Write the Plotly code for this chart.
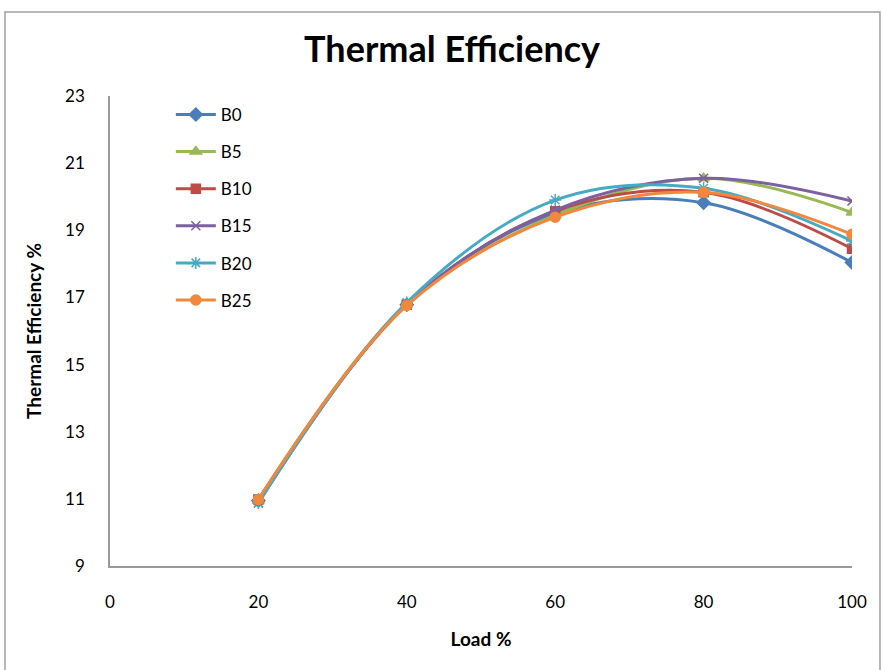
import plotly.graph_objects as go

# Engine load (%) and thermal efficiency (%) for each blend
load = [20, 40, 60, 80, 100]
b0 = [10.95, 16.78, 19.50, 19.82, 18.04]
b5 = [10.95, 16.80, 19.45, 20.55, 19.53]
b10 = [10.98, 16.78, 19.57, 20.13, 18.45]
b15 = [10.88, 16.80, 19.60, 20.55, 19.87]
b20 = [10.88, 16.85, 19.90, 20.25, 18.68]
b25 = [10.98, 16.76, 19.39, 20.13, 18.88]

series = [
    ("B0", b0, "#4A7EBB", "diamond", 10),
    ("B5", b5, "#98B954", "triangle-up", 10),
    ("B10", b10, "#BE4B48", "square", 9),
    ("B15", b15, "#7D60A0", "x-thin-open", 9),
    ("B20", b20, "#46AAC5", "asterisk-open", 10),
    ("B25", b25, "#F1883C", "circle", 10),
]

fig = go.Figure()
for name, vals, color, sym, size in series:
    fig.add_trace(go.Scatter(
        x=load, y=vals, name=name, legendgroup=name,
        mode="lines+markers",
        line=dict(color=color, width=3, shape="spline", smoothing=1.0),
        marker=dict(symbol=sym, size=size, color=color,
                    line=dict(color=color, width=1.5)),
    ))

font_family = "Lato, 'Open Sans', sans-serif"

fig.update_layout(
    width=883, height=670,
    margin=dict(l=110, r=31, t=96, b=104),
    paper_bgcolor="white", plot_bgcolor="white",
    title=dict(text="<b>Thermal Efficiency</b>", x=0.512, xanchor="center",
               xref="container", y=1 - 49 / 670, yanchor="middle",
               font=dict(family=font_family, size=36, color="black")),
    font=dict(family=font_family, color="black"),
    legend=dict(x=0.082, y=0.998, xanchor="left", yanchor="top",
                bgcolor="rgba(0,0,0,0)", tracegroupgap=12,
                font=dict(family=font_family, size=17, color="black"),
                itemwidth=40),
    showlegend=True,
    shapes=[dict(type="rect", xref="paper", yref="paper",
                 x0=-0.1415, x1=1.0377, y0=-0.3, y1=1.1787,
                 line=dict(color="#A0A0A0", width=1.5), layer="below")],
)

fig.update_xaxes(
    range=[0, 100], tickvals=[0, 20, 40, 60, 80, 100],
    showgrid=False, zeroline=False,
    showline=True, linecolor="#9A9A9A", linewidth=1.5,
    ticks="", ticklabelstandoff=20,
    tickfont=dict(family=font_family, size=17, color="black"),
    title=dict(text="<b>Load %</b>", standoff=22,
               font=dict(family=font_family, size=19, color="black")),
)
fig.update_yaxes(
    range=[9, 23], tickvals=[9, 11, 13, 15, 17, 19, 21, 23],
    showgrid=False, zeroline=False,
    showline=True, linecolor="#9A9A9A", linewidth=1.5,
    ticks="", ticklabelstandoff=20,
    tickfont=dict(family=font_family, size=17, color="black"),
    title=dict(text="<b>Thermal Efficiency %</b>", standoff=18,
               font=dict(family=font_family, size=19, color="black")),
)

fig.write_html("out.html")
